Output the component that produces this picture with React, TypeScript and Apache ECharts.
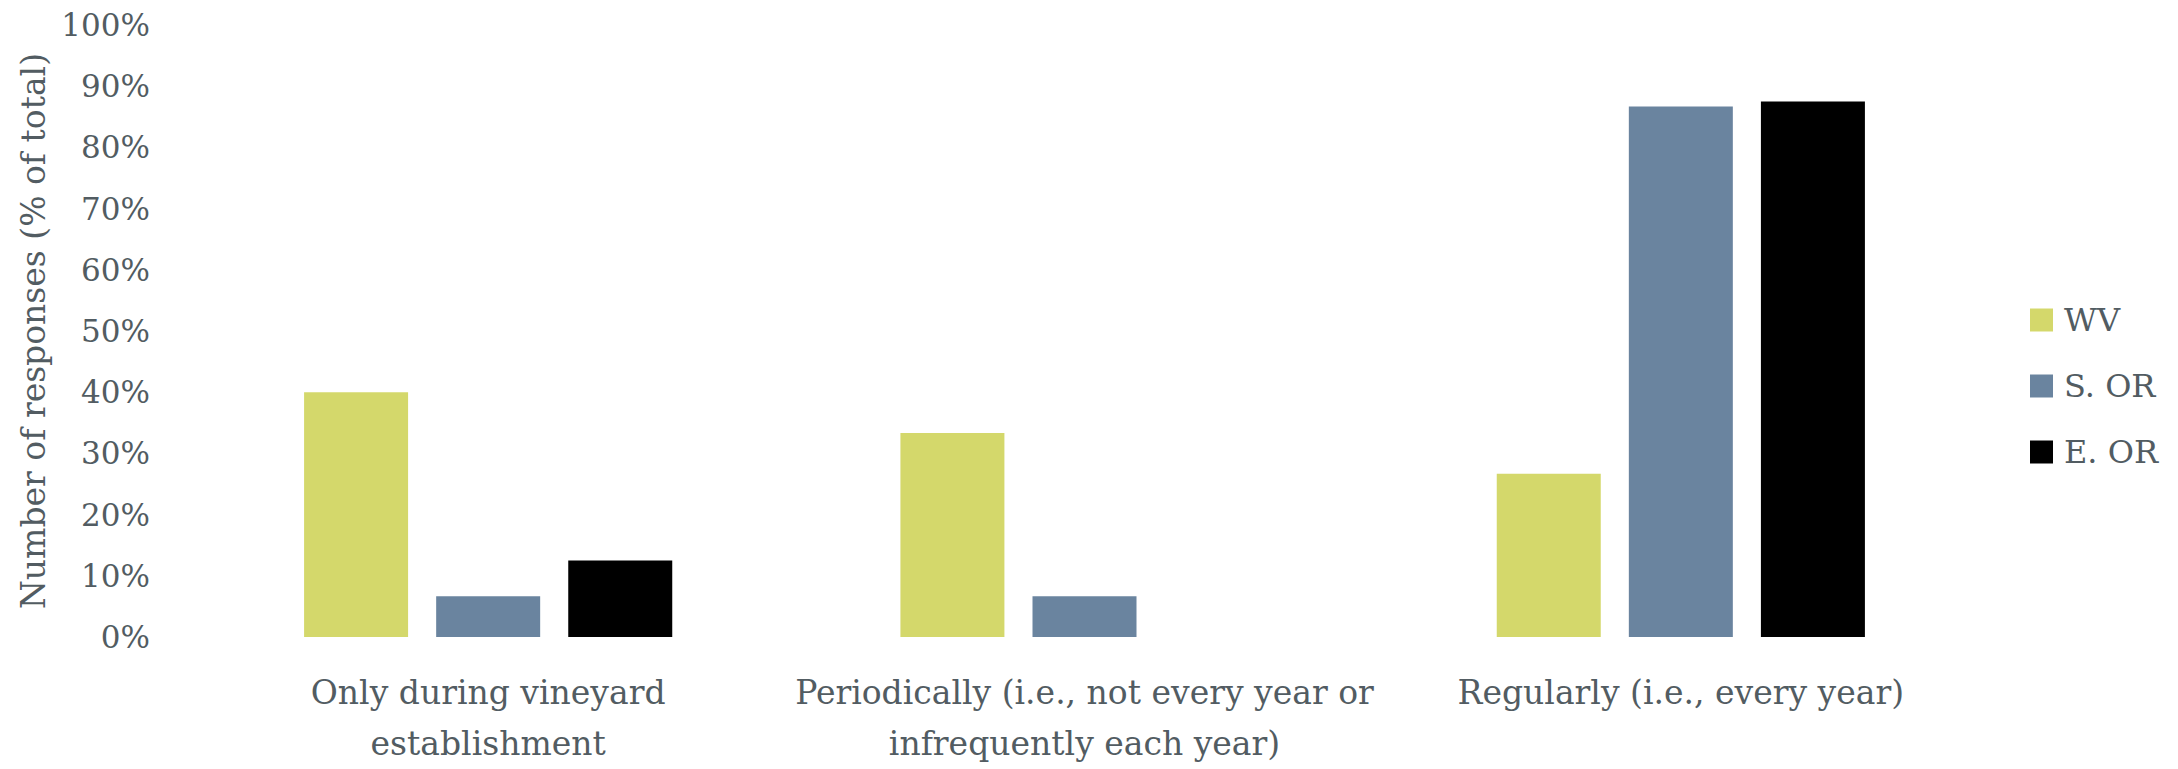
import React, { useEffect, useRef } from "react";
import * as echarts from "echarts";

const categories = [
  "Only during vineyard\nestablishment",
  "Periodically (i.e., not every year or\ninfrequently each year)",
  "Regularly (i.e., every year)",
];
const seriesNames = ["WV", "S. OR", "E. OR"];
const wvValues = [40, 33.33, 26.67];
const sorValues = [6.67, 6.67, 86.67];
const eorValues = [12.5, 0, 87.5];
const yTicks = [0, 10, 20, 30, 40, 50, 60, 70, 80, 90, 100];
const colors = ["#d4d86b", "#6a849f", "#000000"];

const FONT = "'DejaVu Serif', serif";
const TEXT = "#525c62";

export default function App() {
  const ref = useRef<HTMLDivElement>(null);
  useEffect(() => {
    document.body.style.margin = "0";
    if (!ref.current) return;
    const chart = echarts.init(ref.current, null, { renderer: "svg" });
    const values = [wvValues, sorValues, eorValues];
    chart.setOption({
      animation: false,
      backgroundColor: "#ffffff",
      textStyle: { fontFamily: FONT, color: TEXT },
      grid: { left: 190, right: 199, top: 25, bottom: 128, containLabel: false },
      legend: {
        orient: "vertical",
        left: 2025,
        top: 297,
        itemWidth: 23,
        itemHeight: 23,
        itemGap: 30,
        icon: "rect",
        data: seriesNames,
        textStyle: { fontFamily: FONT, fontSize: 32, color: TEXT, lineHeight: 36, padding: [0, 0, 0, 6] },
      },
      xAxis: {
        type: "category",
        data: categories,
        axisLine: { show: false },
        axisTick: { show: false },
        axisLabel: {
          interval: 0,
          margin: 30,
          fontFamily: FONT,
          fontSize: 33,
          lineHeight: 51,
          color: TEXT,
          align: "center",
        },
      },
      yAxis: {
        type: "value",
        min: yTicks[0],
        max: yTicks[yTicks.length - 1],
        interval: 10,
        name: "Number of responses (% of total)",
        nameLocation: "middle",
        nameRotate: 90,
        nameGap: 140,
        nameTextStyle: { fontFamily: FONT, fontSize: 33, color: TEXT },
        axisLine: { show: false },
        axisTick: { show: false },
        splitLine: { show: false },
        axisLabel: {
          margin: 40,
          fontFamily: FONT,
          fontSize: 31,
          color: TEXT,
          formatter: "{value}%",
        },
      },
      series: seriesNames.map((name, i) => ({
        name,
        type: "bar",
        data: values[i],
        barWidth: 104,
        barGap: "27%",
        itemStyle: { color: colors[i] },
      })),
    });
    return () => chart.dispose();
  }, []);
  return <div ref={ref} style={{ width: 2178, height: 769 }} />;
}
